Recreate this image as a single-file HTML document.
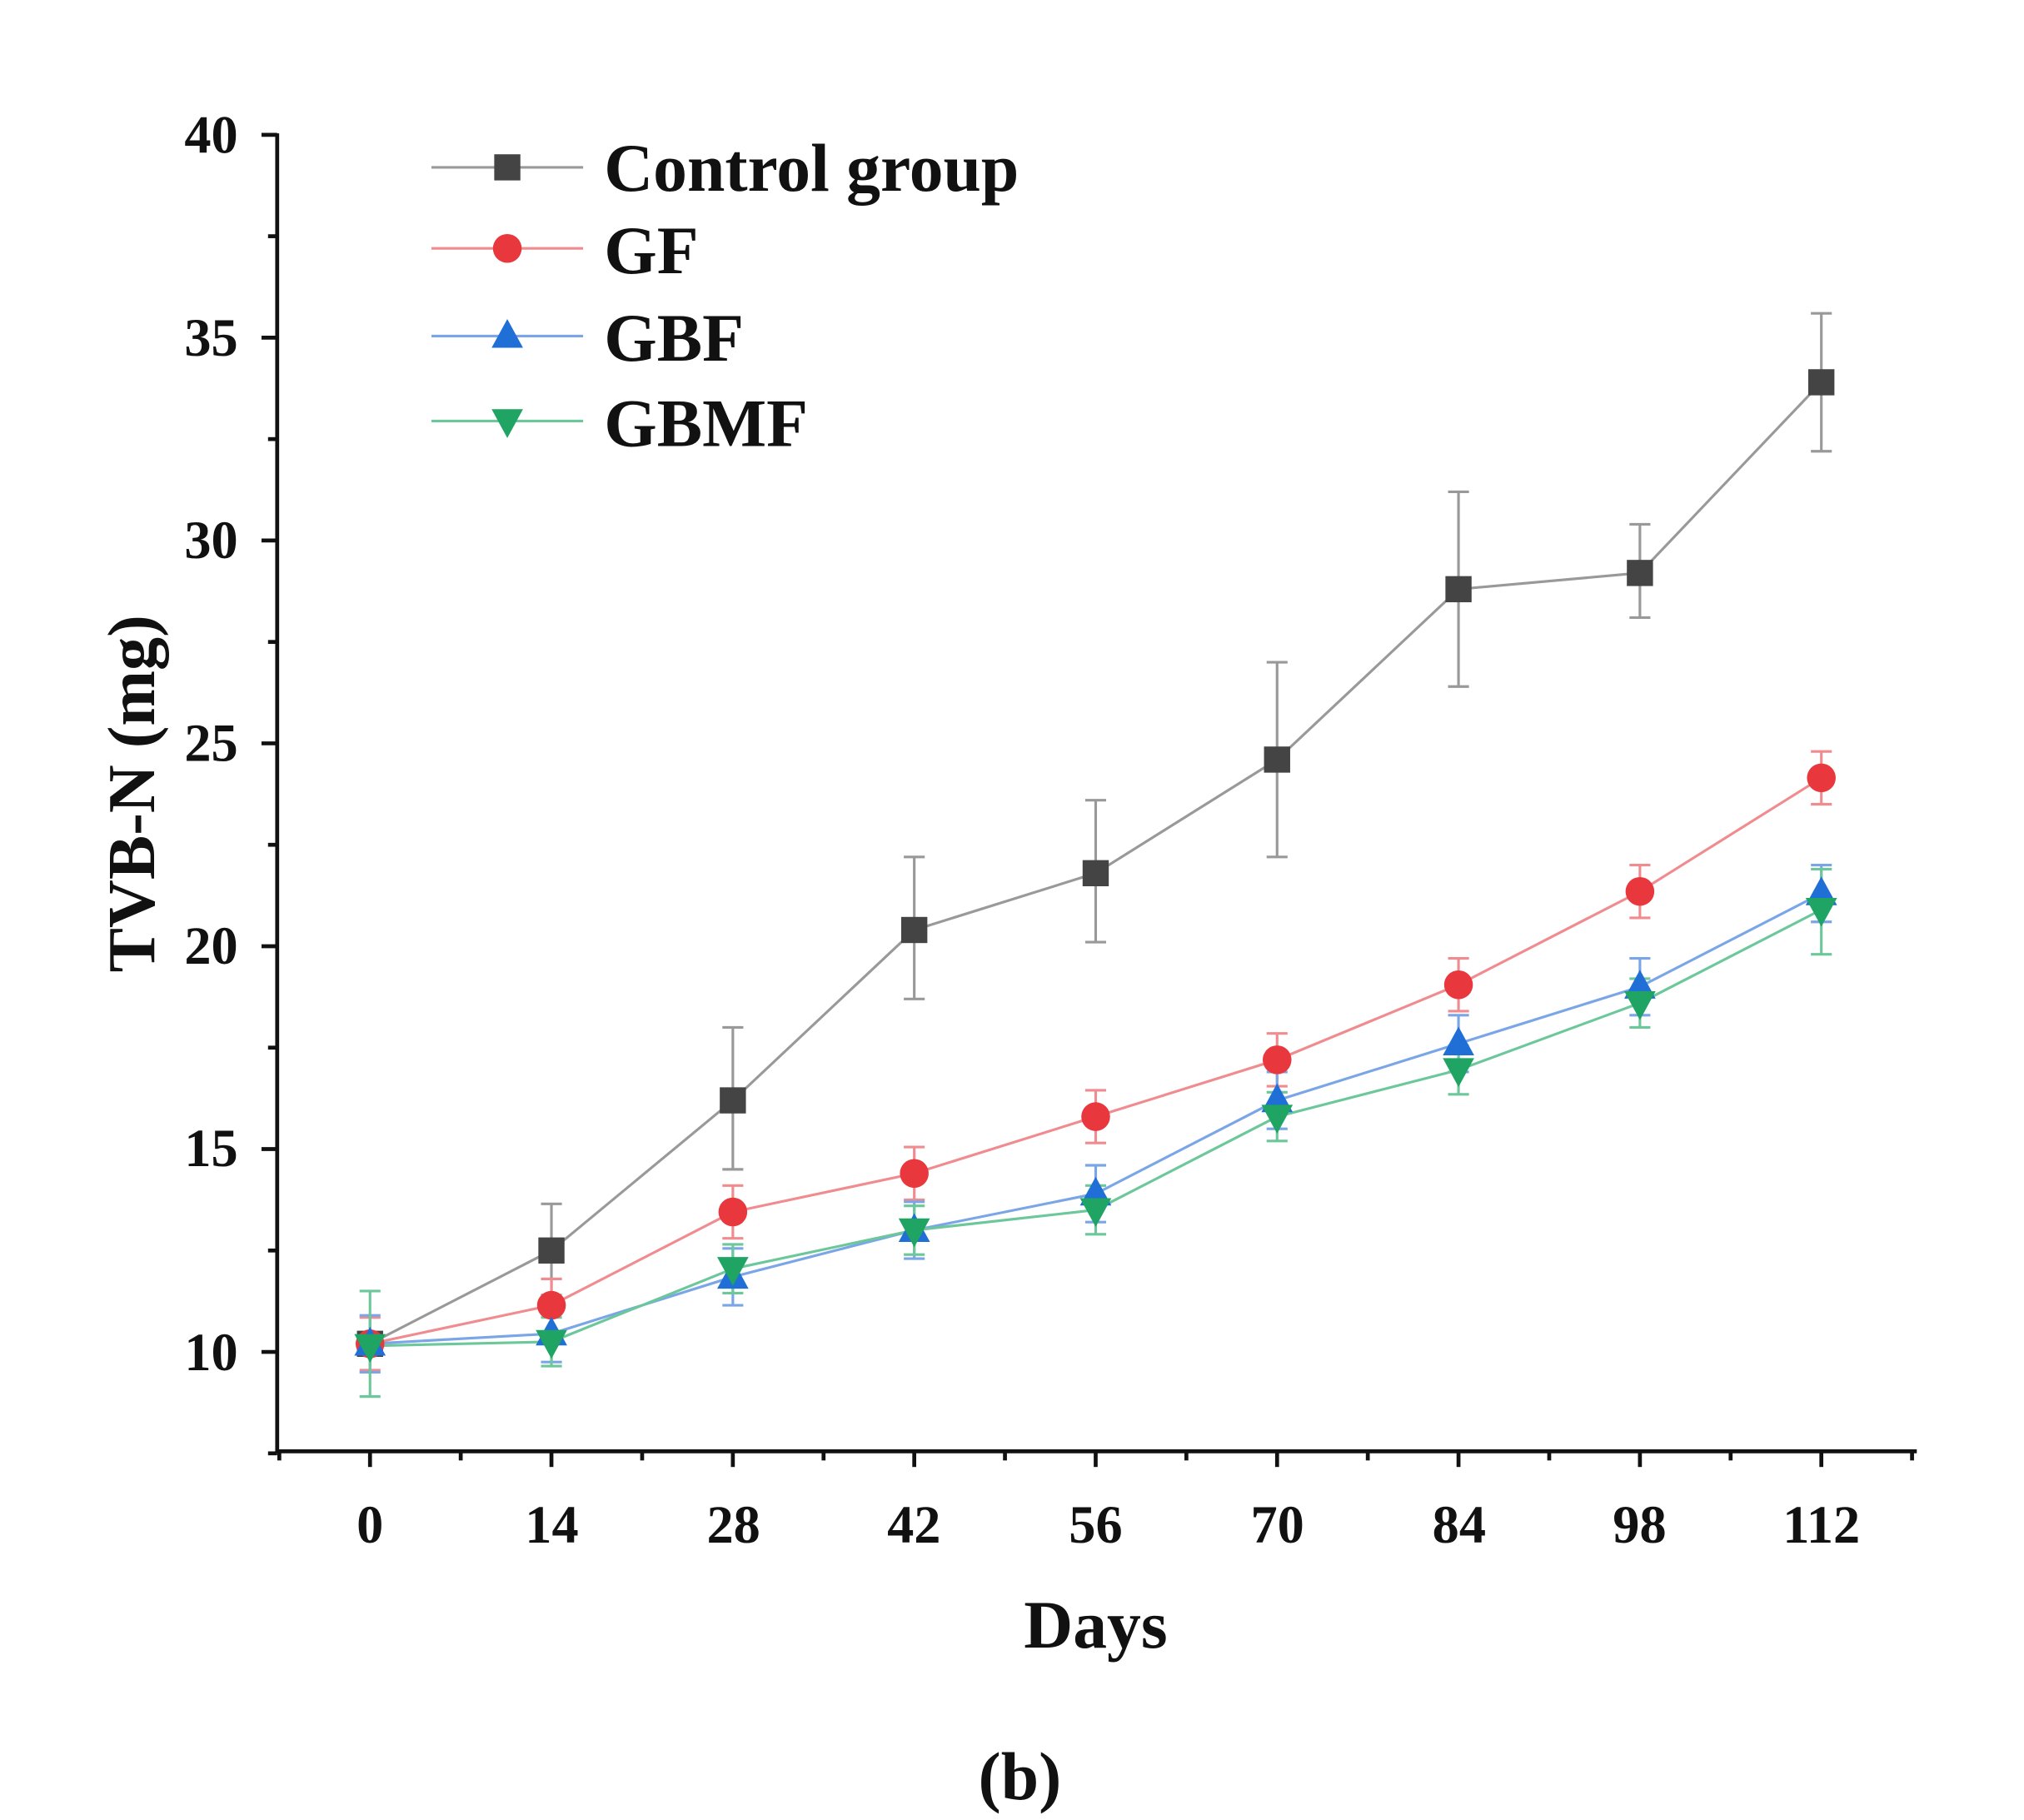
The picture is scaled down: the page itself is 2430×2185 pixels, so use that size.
<!DOCTYPE html>
<html><head><meta charset="utf-8"><style>
html,body{margin:0;padding:0;background:#fff;}
svg{display:block;}
text{font-family:"Liberation Serif",serif;font-weight:bold;fill:#111;}
</style></head><body>
<svg id="s" width="2430" height="2185" viewBox="0 0 1548 1392" preserveAspectRatio="none" xmlns="http://www.w3.org/2000/svg">
<rect width="1548" height="1392" fill="#fff"/>
<g id="axes" stroke="#111" stroke-width="3" fill="none">
<line x1="212" y1="102" x2="212" y2="1111"/>
<line x1="211" y1="1110" x2="1466" y2="1110"/>
</g>
<g font-size="41" text-anchor="end">
<text x="182" y="117">40</text>
<text x="182" y="272">35</text>
<text x="182" y="427">30</text>
<text x="182" y="582">25</text>
<text x="182" y="737">20</text>
<text x="182" y="892">15</text>
<text x="182" y="1048">10</text>
</g>
<g font-size="41" text-anchor="middle">
<text x="283" y="1180">0</text>
<text x="422" y="1180">14</text>
<text x="561" y="1180">28</text>
<text x="699" y="1180">42</text>
<text x="838" y="1180">56</text>
<text x="977" y="1180">70</text>
<text x="1116" y="1180">84</text>
<text x="1254" y="1180">98</text>
<text x="1393" y="1180">112</text>
</g>
<text x="838" y="1260" font-size="52" text-anchor="middle">Days</text>
<text transform="translate(118,607) rotate(-90)" font-size="51" text-anchor="middle">TVB-N (mg)</text>
<text x="780" y="1376" font-size="52" text-anchor="middle" font-weight="normal">(<tspan font-weight="bold">b</tspan>)</text>
<g font-size="52">
<text x="462" y="146">Control group</text>
<text x="462" y="209">GF</text>
<text x="462" y="276">GBF</text>
<text x="462" y="341">GBMF</text>
</g>
<g id="g"></g>
</svg>
<script>
const NS="http://www.w3.org/2000/svg";
const g=document.getElementById('g'), ax=document.getElementById('axes');
function el(t,a,p){const e=document.createElementNS(NS,t);for(const k in a)e.setAttribute(k,a[k]);(p||g).appendChild(e);return e;}
const px=x=>283+x*(1110/112), py=v=>1034-(v-10)*31.03;
for(let v=7.5;v<=40.01;v+=2.5){const y=py(v);const maj=(v%5===0);el('line',{x1:212-(maj?12:7),y1:y,x2:212,y2:y},ax);}
for(let d=-7;d<=119;d+=7){const x=px(d);if(x<212||x>1466)continue;const maj=(d%14===0);el('line',{x1:x,y1:1110,x2:x,y2:1110+(maj?12:7)},ax);}
const days=[0,14,28,42,56,70,84,98,112];
const S=[
 {c:'#444',l:'#999',m:'sq',v:[10.2,12.5,16.2,20.4,21.8,24.6,28.8,29.2,33.9],
  e:[[10.3,10.1],[13.65,11.4],[18.0,14.5],[22.2,18.7],[23.6,20.1],[27.0,22.2],[31.2,26.4],[30.4,28.1],[35.6,32.2]]},
 {c:'#e8383d',l:'#f08c8f',m:'ci',v:[10.2,11.15,13.45,14.4,15.8,17.2,19.05,21.35,24.15],d:0.65},
 {c:'#1f6fd6',l:'#7aa6e8',m:'up',v:[10.2,10.45,11.85,13.0,13.9,16.2,17.6,19.0,21.3],d:0.7},
 {c:'#1fa463',l:'#6cc79a',m:'dn',v:[10.15,10.25,12.05,13.0,13.5,15.8,16.95,18.6,20.9],d:0.6,e0:[[11.5,8.9]],last:[21.9,19.8]}
];
function marker(m,x,y,c){
 if(m==='sq')el('rect',{x:x-10,y:y-10,width:20,height:20,fill:c});
 else if(m==='ci')el('circle',{cx:x,cy:y,r:11,fill:c});
 else if(m==='up')el('polygon',{points:`${x},${y-13} ${x+12},${y+9} ${x-12},${y+9}`,fill:c});
 else el('polygon',{points:`${x},${y+13} ${x+12},${y-9} ${x-12},${y-9}`,fill:c});
}
S.forEach(s=>{
 days.forEach((d,i)=>{
  let hi,lo;
  if(s.e){[hi,lo]=s.e[i];}
  else{hi=s.v[i]+s.d;lo=s.v[i]-s.d;}
  if(s.e0&&i===0)[hi,lo]=s.e0[0];
  if(s.last&&i===8)[hi,lo]=s.last;
  const x=px(d);
  el('line',{x1:x,y1:py(hi),x2:x,y2:py(lo),stroke:s.l,'stroke-width':2});
  el('line',{x1:x-8,y1:py(hi),x2:x+8,y2:py(hi),stroke:s.l,'stroke-width':2});
  el('line',{x1:x-8,y1:py(lo),x2:x+8,y2:py(lo),stroke:s.l,'stroke-width':2});
 });
 el('polyline',{points:days.map((d,i)=>px(d)+','+py(s.v[i])).join(' '),fill:'none',stroke:s.l,'stroke-width':2});
});
S.forEach(s=>days.forEach((d,i)=>marker(s.m,px(d),py(s.v[i]),s.c)));
const ly=[128,190,257,322];
S.forEach((s,i)=>{el('line',{x1:330,y1:ly[i],x2:446,y2:ly[i],stroke:s.l,'stroke-width':2});marker(s.m,388,ly[i],s.c);});
</script>
</body></html>
